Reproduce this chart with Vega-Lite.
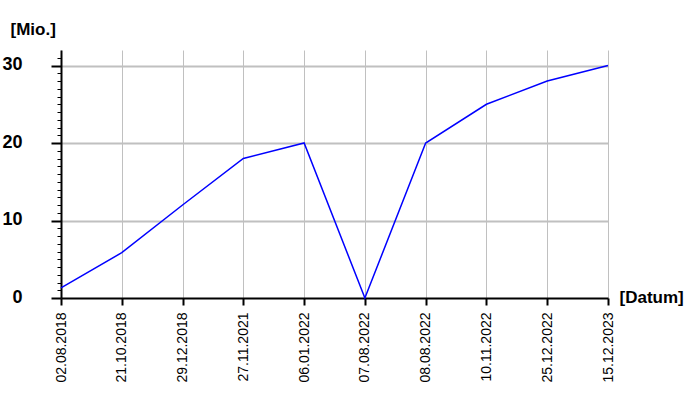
{
  "$schema": "https://vega.github.io/schema/vega-lite/v6.json",
  "width": 547,
  "height": 248,
  "autosize": "none",
  "padding": {"left": 61, "top": 50, "right": 92, "bottom": 102},
  "background": "white",
  "config": {"view": {"stroke": null}, "font": "Liberation Sans"},
  "data": {
    "values": [
      {"Datum": "02.08.2018", "Wert": 1.3},
      {"Datum": "21.10.2018", "Wert": 5.85},
      {"Datum": "29.12.2018", "Wert": 12},
      {"Datum": "27.11.2021", "Wert": 18},
      {"Datum": "06.01.2022", "Wert": 20},
      {"Datum": "07.08.2022", "Wert": 0},
      {"Datum": "08.08.2022", "Wert": 20},
      {"Datum": "10.11.2022", "Wert": 25},
      {"Datum": "25.12.2022", "Wert": 28},
      {"Datum": "15.12.2023", "Wert": 30}
    ]
  },
  "mark": {"type": "line", "color": "#0000ff", "strokeWidth": 1.5},
  "encoding": {
    "x": {
      "field": "Datum",
      "type": "ordinal",
      "sort": null,
      "scale": {"type": "point", "padding": 0},
      "axis": {
        "title": "[Datum]",
        "titleX": 558,
        "titleY": -1,
        "titleAlign": "left",
        "titleBaseline": "middle",
        "titleFontSize": 17,
        "titleFontWeight": "bold",
        "titleColor": "black",
        "titleFont": "Liberation Sans",
        "labelAngle": -90,
        "labelFontSize": 14,
        "labelColor": "black",
        "labelFont": "Liberation Sans",
        "labelPadding": 7,
        "tickSize": 7,
        "tickWidth": 2,
        "tickColor": "black",
        "domainColor": "black",
        "domainWidth": 2,
        "grid": true,
        "gridColor": "#c0c0c0",
        "gridWidth": 1,
        "labelOverlap": false
      }
    },
    "y": {
      "field": "Wert",
      "type": "quantitative",
      "scale": {"domain": [0, 32], "nice": false, "zero": true},
      "axis": {
        "title": "[Mio.]",
        "titleAngle": 0,
        "titleX": -51,
        "titleY": -21,
        "titleAlign": "left",
        "titleBaseline": "middle",
        "titleFontSize": 17,
        "titleFontWeight": "bold",
        "titleColor": "black",
        "titleFont": "Liberation Sans",
        "values": [0,1,2,3,4,5,6,7,8,9,10,11,12,13,14,15,16,17,18,19,20,21,22,23,24,25,26,27,28,29,30,31],
        "labelExpr": "datum.value % 10 === 0 ? datum.label : ''",
        "labelFontSize": 18,
        "labelFontWeight": "bold",
        "labelColor": "black",
        "labelFont": "Liberation Sans",
        "labelPadding": 29,
        "labelOffset": -1,
        "labelOverlap": false,
        "labelFlush": false,
        "tickSize": {"condition": {"test": "datum.value % 10 === 0", "value": 10}, "value": 4},
        "tickWidth": {"condition": {"test": "datum.value % 10 === 0", "value": 2}, "value": 1},
        "tickColor": "black",
        "domainColor": "black",
        "domainWidth": 2,
        "grid": true,
        "gridColor": "#c0c0c0",
        "gridWidth": 2,
        "gridOpacity": {"condition": {"test": "datum.value % 10 === 0 && datum.value > 0", "value": 1}, "value": 0}
      }
    }
  }
}
